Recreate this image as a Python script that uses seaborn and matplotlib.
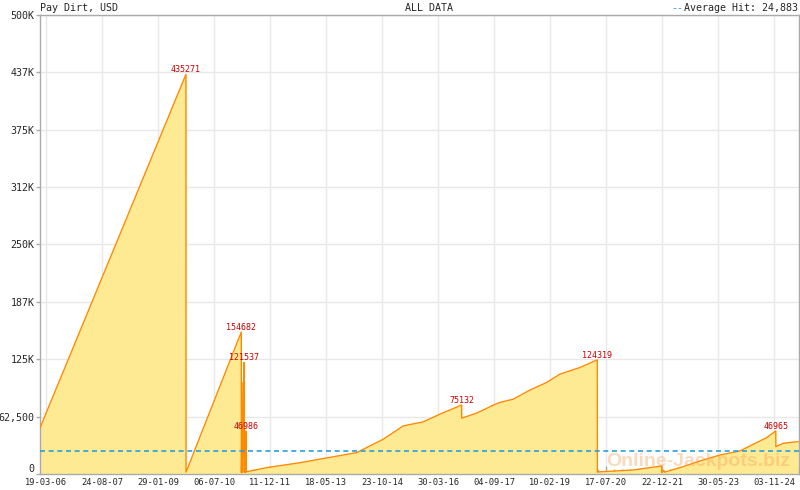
import numpy as np
import pandas as pd
import seaborn as sns
import matplotlib.pyplot as plt
import matplotlib.dates as mdates

# -----------------------------
# Data
# -----------------------------
hit_dates = [
    "2006-01-22", "2009-10-16", "2009-10-17", "2011-03-17", "2011-03-18",
    "2011-03-23", "2011-03-26", "2011-04-05", "2011-04-08", "2011-04-11",
    "2011-04-14", "2011-04-17", "2011-04-20", "2011-04-23", "2011-04-27",
    "2011-04-30", "2011-05-03", "2011-05-09", "2011-11-09", "2012-09-15",
    "2014-02-27", "2014-11-02", "2015-05-08", "2015-11-11", "2016-04-15",
    "2016-11-03", "2016-11-04", "2017-03-23", "2017-08-25", "2017-10-27",
    "2018-02-28", "2018-08-03", "2019-01-06", "2019-05-10", "2019-11-13",
    "2020-04-23", "2020-04-24", "2021-03-25", "2021-12-15", "2021-12-16",
    "2022-01-05", "2022-01-10", "2022-07-05", "2022-12-08", "2023-06-13",
    "2023-12-16", "2024-04-20", "2024-08-22", "2024-11-15", "2024-11-16",
    "2025-01-25", "2025-06-14",
]
jackpot = [
    50200, 435271, 2000, 154682, 1500,
    60000, 1500, 100000, 20000, 121537,
    2000, 20000, 2000, 20000, 2000,
    46986, 2500, 2500, 6900, 12300,
    23300, 37900, 52400, 56800, 65200,
    75132, 60800, 66300, 75000, 78000,
    81500, 91400, 99700, 108800, 116000,
    124319, 2200, 4400, 8700, 1400,
    4000, 2000, 8000, 14200, 20700,
    25100, 32400, 39600, 46965, 29800,
    33500, 35300,
]
peak_labels = [435271, 154682, 121537, 46986, 75132, 124319, 46965]
average_hit = 24883

x_tick_dates = [
    "2006-03-19", "2007-08-24", "2009-01-29", "2010-07-06", "2011-12-11",
    "2013-05-18", "2014-10-23", "2016-03-30", "2017-09-04", "2019-02-10",
    "2020-07-17", "2021-12-22", "2023-05-30", "2024-11-03",
]
x_tick_labels = [
    "19-03-06", "24-08-07", "29-01-09", "06-07-10", "11-12-11",
    "18-05-13", "23-10-14", "30-03-16", "04-09-17", "10-02-19",
    "17-07-20", "22-12-21", "30-05-23", "03-11-24",
]
y_ticks = [0, 62500, 125000, 187500, 250000, 312500, 375000, 437500, 500000]
y_tick_labels = ["0", "62,500", "125K", "187K", "250K", "312K", "375K", "437K", "500K"]

df = pd.DataFrame({"date": pd.to_datetime(hit_dates), "value": jackpot})

# -----------------------------
# Figure
# -----------------------------
sns.set_style("white")
plt.rcParams["font.family"] = ["DejaVu Sans Mono", "DejaVu Sans"]

fig = plt.figure(figsize=(8, 4.9), dpi=100)
ax = fig.add_axes([40 / 800, 16 / 490, 759 / 800, 459 / 490])

line_col = "#FF8A00"
fill_col = "#FFEA94"
grid_col = "#E8E8E8"
frame_col = "#AAAAAA"
avg_col = "#2A9FD8"

ax.fill_between(df["date"], df["value"], 0, color=fill_col, lw=0, zorder=1)
sns.lineplot(data=df, x="date", y="value", ax=ax, color=line_col, lw=1.0,
             sort=False, estimator=None, zorder=3)

# average hit line
ax.axhline(average_hit, color=avg_col, lw=1.2, ls=(0, (3, 2.2)), zorder=4)

# peak value labels
for v in peak_labels:
    d = df.loc[df["value"] == v, "date"].iloc[0]
    ax.text(d, v, str(v), color="#CC0000", fontsize=6, ha="center",
            va="bottom", zorder=5)

# -----------------------------
# Axes styling
# -----------------------------
ax.set_xlim(pd.Timestamp("2006-01-22"), pd.Timestamp("2025-06-20"))
ax.set_ylim(0, 500000)

major = pd.to_datetime(x_tick_dates)
ax.set_xticks(major)
ax.set_xticklabels(x_tick_labels, fontsize=6.3)
minor = []
for a, b in zip(major[:-1], major[1:]):
    pts = np.linspace(mdates.date2num(a), mdates.date2num(b), 8)[1:-1]
    minor.extend(pts)
last_step = (mdates.date2num(major[-1]) - mdates.date2num(major[-2])) / 7
minor.extend([mdates.date2num(major[-1]) + k * last_step for k in range(1, 4)])
ax.set_xticks(minor, minor=True)

ax.set_yticks(y_ticks)
ax.set_yticklabels(y_tick_labels, fontsize=7.2)
# lift the "0" label a little so it clears the first date label
ax.get_yticklabels()[0].set_va("bottom")

ax.tick_params(axis="x", which="major", direction="in", length=6, width=1,
               color=frame_col, pad=3, bottom=True)
ax.tick_params(axis="x", which="minor", direction="in", length=3.5, width=1,
               color=frame_col, bottom=True)
ax.tick_params(axis="y", direction="out", length=3, width=1,
               color=frame_col, pad=1, left=True)

ax.grid(True, which="major", color=grid_col, lw=1, zorder=0)
ax.set_axisbelow(True)
for s in ax.spines.values():
    s.set_color(frame_col)
    s.set_linewidth(1)
ax.set_xlabel("")
ax.set_ylabel("")

# -----------------------------
# Header texts and watermark
# -----------------------------
fig.text(40 / 800, 1 - 8 / 490, "Pay Dirt, USD", fontsize=7.2, va="center", ha="left")
fig.text(405 / 800, 1 - 8 / 490, "ALL DATA", fontsize=7.2, va="center", ha="left")
fig.text(798 / 800, 1 - 8 / 490, "Average Hit: 24,883", fontsize=7.2,
         va="center", ha="right")
fig.text(683 / 800, 1 - 8 / 490, "--", fontsize=7.2, va="center", ha="right",
         color=avg_col)
ax.text(0.988, 0.008, "Online-Jackpots.biz", transform=ax.transAxes,
        fontsize=14, fontweight="bold", family="Liberation Sans",
        color="#F5A050", alpha=0.38, ha="right", va="bottom", zorder=6)

fig.savefig("out.png", dpi=100)
